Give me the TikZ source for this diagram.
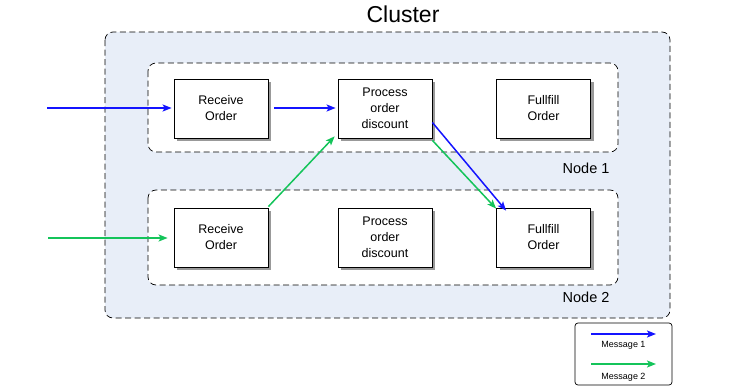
\documentclass[tikz,border=0pt]{standalone}
\usepackage{fontspec}
\setmainfont{Liberation Sans}
\usetikzlibrary{arrows.meta,shadows}
\definecolor{clusterbg}{HTML}{E8EEF8}
\definecolor{msgblue}{HTML}{1414FF}
\definecolor{msggreen}{HTML}{14C45A}
\begin{document}
\begin{tikzpicture}[x=1pt,y=-1pt,
  region/.style={draw=black, dashed, dash pattern=on 6pt off 3.5pt, rounded corners=8pt, line width=0.7pt},
  task/.style={draw=black, fill=white, line width=0.8pt, minimum width=94pt, minimum height=59pt,
    align=center, font=\fontsize{12.5}{16}\selectfont,
    drop shadow={shadow xshift=3pt, shadow yshift=-3pt, opacity=0.4, fill=black}},
  bluearrow/.style={draw=msgblue, line width=1.5pt, -{Stealth[length=9pt,width=7pt,inset=2pt]}},
  greenarrow/.style={draw=msggreen, line width=1.5pt, -{Stealth[length=9pt,width=7pt,inset=2pt]}},
  lbl/.style={font=\fontsize{14.5}{16}\selectfont}
]
\useasboundingbox (0,0) rectangle (745,391);
% cluster
\draw[region, fill=clusterbg] (105,32) rectangle (670,318);
\node[font=\fontsize{23}{26}\selectfont] (title) at (403,14) {Cluster};
% nodes
\draw[region, fill=white] (148,63) rectangle (618,152);
\draw[region, fill=white] (148,190) rectangle (618,285);
\node[lbl, anchor=east] (n1) at (613,168) {Node 1};
\node[lbl, anchor=east] (n2) at (613,297) {Node 2};
% tasks
\node[task] (r1) at (221,108.5) {Receive\\Order};
\node[task] (p1) at (385,108.5) {Process\\order\\discount};
\node[task] (f1) at (543.5,108.5) {Fullfill\\Order};
\node[task] (r2) at (221,237.5) {Receive\\Order};
\node[task] (p2) at (385,237.5) {Process\\order\\discount};
\node[task] (f2) at (543.5,237.5) {Fullfill\\Order};
% inputs
\coordinate (in1) at (47,108);
\coordinate (in2) at (48,238);
% message 1
\draw[bluearrow] (in1) -- ([xshift=-2pt]r1.west|-in1);
\draw[bluearrow] ([xshift=6pt]r1.east|-in1) -- ([xshift=-2pt]p1.west|-in1);
\draw[bluearrow] ([yshift=-14pt]p1.east) -- ([xshift=10pt,yshift=-3pt]f2.north west);
% message 2
\draw[greenarrow] (in2) -- ([xshift=-6pt]r2.west|-in2);
\draw[greenarrow] ([yshift=1pt]r2.north east) -- ([xshift=-3pt,yshift=2pt]p1.south west);
\draw[greenarrow] ([yshift=-2pt]p1.south east) -- ([yshift=-1pt]f2.north west);
% legend
\node[draw=black, line width=0.7pt, rounded corners=3pt, minimum width=97pt, minimum height=62pt] (legend) at (623.5,354) {};
\coordinate (l1a) at (591,334);
\coordinate (l1b) at (656,334);
\coordinate (l2a) at (591,364);
\coordinate (l2b) at (656,364);
\draw[bluearrow] (l1a) -- (l1b);
\draw[greenarrow] (l2a) -- (l2b);
\node[font=\fontsize{9}{10}\selectfont] (m1) at (623.5,345) {Message 1};
\node[font=\fontsize{9}{10}\selectfont] (m2) at (623.5,377) {Message 2};
\end{tikzpicture}
\end{document}
